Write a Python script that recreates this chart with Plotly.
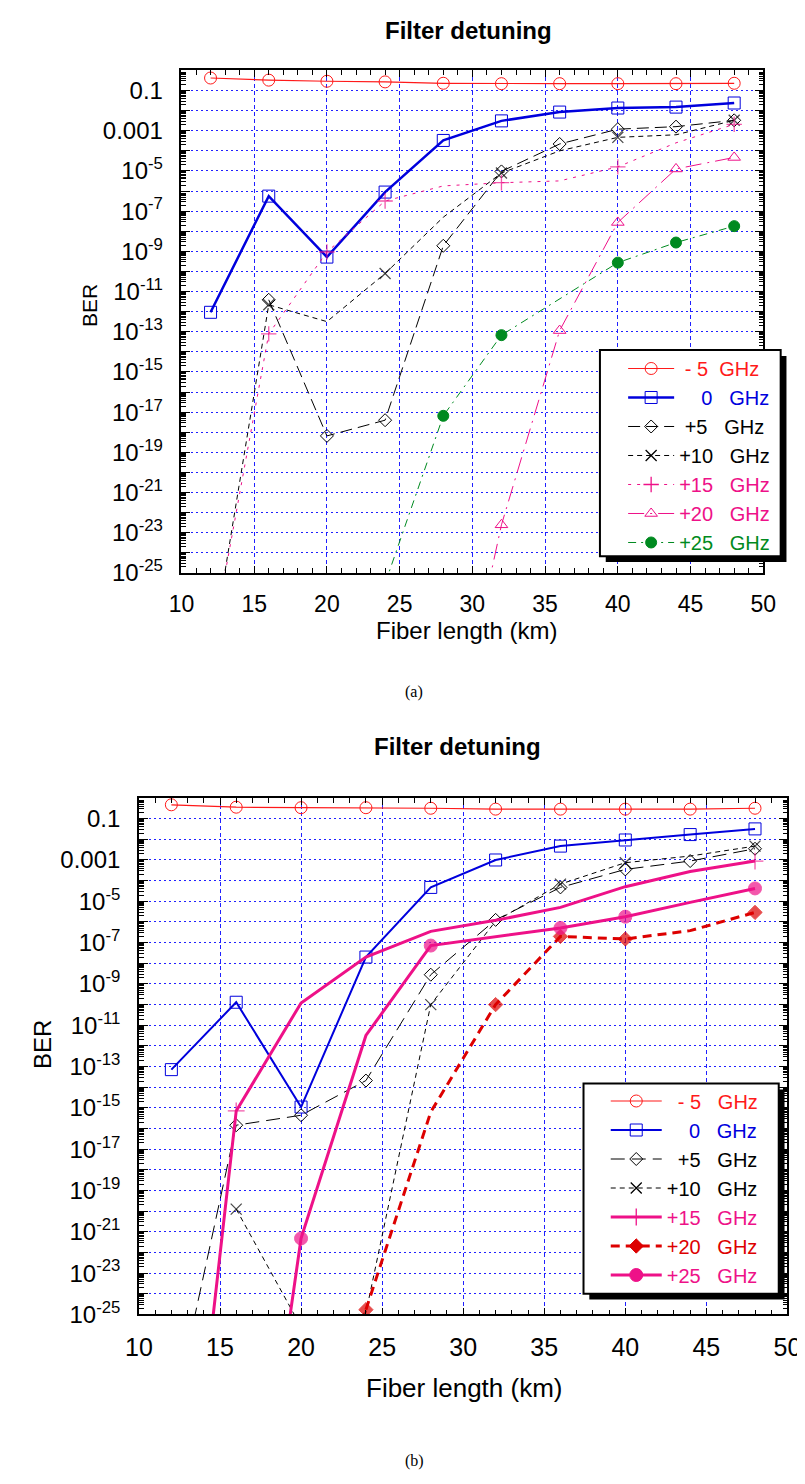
import plotly.graph_objects as go

# ---------------- data ----------------
fiber_km = [12, 16, 20, 24, 28, 32, 36, 40, 44, 48]
x_ticks = [10, 15, 20, 25, 30, 35, 40, 45, 50]

# panel (a)
a_m5 = [0.42, 0.33, 0.29, 0.27, 0.23, 0.22, 0.22, 0.22, 0.22, 0.23]
a_0 = [9.3e-13, 5.6e-7, 5.2e-10, 8.9e-7, 3.3e-4, 3.1e-3, 8.5e-3, 1.35e-2, 1.5e-2, 2.4e-2]
a_p5_x = [16, 20, 24, 28, 32, 36, 40, 44, 48]
a_p5 = [3.9e-12, 6.6e-19, 4.0e-18, 1.9e-9, 9.5e-6, 2.2e-4, 1.2e-3, 1.6e-3, 3.3e-3]
a_p10 = [5e-30, 2.2e-12, 3.2e-13, 7.9e-11, 5.0e-8, 7.9e-6, 1.0e-4, 4.7e-4, 6.3e-4, 3.3e-3]
a_p15 = [1e-29, 7.9e-14, 9.3e-10, 3.2e-7, 1.8e-6, 2.6e-6, 3.2e-6, 1.6e-5, 2.5e-4, 2.1e-3]
a_p20_x = [28, 32, 36, 40, 44, 48]
a_p20 = [1e-36, 2.5e-23, 1.15e-13, 2.75e-8, 1.26e-5, 4.7e-5]
a_p25_x = [24, 28, 32, 40, 44, 48]
a_p25 = [3e-26, 6.6e-18, 6.8e-14, 2.75e-10, 2.75e-9, 1.8e-8]

# panel (b)
b_m5 = [0.47, 0.36, 0.34, 0.34, 0.32, 0.29, 0.29, 0.29, 0.29, 0.32]
b_0 = [7.1e-14, 1.3e-10, 1.1e-15, 2.0e-8, 4.7e-5, 1.0e-3, 4.7e-3, 9.3e-3, 1.7e-2, 3.2e-2]
b_p5 = [5e-31, 1.45e-16, 4.4e-16, 2.1e-14, 2.8e-9, 1.26e-6, 4.7e-5, 3.5e-4, 8.9e-4, 3.5e-3]
b_p10_x = [16, 20, 24, 28, 32, 36, 40, 44, 48]
b_p10 = [1.26e-20, 2.5e-26, 1.2e-25, 1.0e-10, 1.1e-6, 6.8e-5, 7.4e-4, 1.55e-3, 4.7e-3]
b_p15 = [1e-43, 7.1e-16, 1.2e-10, 2.0e-8, 3.5e-7, 1.2e-6, 5.1e-6, 5.1e-5, 2.75e-4, 8.9e-4]
b_p20_x = [24, 28, 32, 36, 40, 44, 48]
b_p20 = [1.7e-25, 6.3e-16, 1.0e-10, 2.0e-7, 1.5e-7, 3.8e-7, 2.9e-6]
b_p25_x = [16, 20, 24, 28, 36, 40, 44, 48]
b_p25 = [5e-44, 4.8e-22, 3.2e-12, 7.2e-8, 5.1e-7, 1.8e-6, 8.9e-6, 4.2e-5]

NB = "\u00a0"
labels_a = [NB + "-" + NB + "5" + NB * 2 + "GHz",
            NB * 4 + "0" + NB * 3 + "GHz",
            NB + "+5" + NB * 3 + "GHz",
            "+10" + NB * 3 + "GHz",
            "+15" + NB * 3 + "GHz",
            "+20" + NB * 3 + "GHz",
            "+25" + NB * 3 + "GHz"]
labels_b = [NB * 2 + "-" + NB + "5" + NB * 3 + "GHz",
            NB * 4 + "0" + NB * 3 + "GHz",
            NB * 2 + "+5" + NB * 3 + "GHz",
            "+10" + NB * 3 + "GHz",
            "+15" + NB * 3 + "GHz",
            "+20" + NB * 3 + "GHz",
            "+25" + NB * 3 + "GHz"]

# ---------------- styling ----------------
RED = "#ff1a1a"
BLUE = "#0000dd"
PINK = "#ee1188"
GREEN = "#008a20"
BLK = "#000000"
GRID = "#2020ff"
FONT = "Liberation Sans, Arial, sans-serif"

fig = go.Figure()


def add_series(x, y, xa, ya, leg, name, tcolor, color, width, dash, symbol, msize,
               mcolor=None, mline=1.0, show=None):
    if show is None:
        sizes = msize
    else:
        sizes = [msize if s else 0 for s in show]
    mk = dict(symbol=symbol, size=sizes, color=mcolor or color,
              line=dict(width=mline, color=color))
    fig.add_trace(go.Scatter(x=x, y=y, xaxis=xa, yaxis=ya, mode="lines+markers",
                             line=dict(color=color, width=width, dash=dash),
                             marker=mk, showlegend=False, hoverinfo="skip"))
    # legend entry
    fig.add_trace(go.Scatter(x=[None], y=[None], xaxis=xa, yaxis=ya, mode="lines+markers",
                             line=dict(color=color, width=width, dash=dash),
                             marker=dict(symbol=symbol, size=msize, color=mcolor or color,
                                         line=dict(width=mline, color=color)),
                             name=f"<span style='color:{tcolor}'>{name}</span>",
                             legend=leg, showlegend=True))


# panel (a) series
add_series(fiber_km, a_m5, "x", "y", "legend", labels_a[0], RED, RED, 1.2, "solid", "circle-open", 12)
add_series(fiber_km, a_0, "x", "y", "legend", labels_a[1], BLUE, BLUE, 2.5, "solid", "square-open", 12)
add_series(a_p5_x, a_p5, "x", "y", "legend", labels_a[2], BLK, BLK, 1, "12px,6px", "diamond-open", 10)
add_series(fiber_km, a_p10, "x", "y", "legend", labels_a[3], BLK, BLK, 1, "5px,4px", "x-thin", 11,
           mline=1.3, show=[0, 1, 0, 1, 0, 1, 0, 1, 0, 1])
add_series(fiber_km, a_p15, "x", "y", "legend", labels_a[4], PINK, PINK, 1, "3px,6px", "cross-thin", 11,
           mline=1.3, show=[0, 1, 1, 1, 0, 1, 0, 1, 0, 1])
add_series(a_p20_x, a_p20, "x", "y", "legend", labels_a[5], PINK, PINK, 1, "16px,6px,2px,6px",
           "triangle-up-open", 11)
add_series(a_p25_x, a_p25, "x", "y", "legend", labels_a[6], GREEN, GREEN, 1, "8px,5px,2px,5px",
           "circle", 11)

# panel (b) series
add_series(fiber_km, b_m5, "x2", "y2", "legend2", labels_b[0], RED, RED, 1.2, "solid", "circle-open", 12)
add_series(fiber_km, b_0, "x2", "y2", "legend2", labels_b[1], BLUE, BLUE, 2, "solid", "square-open", 12)
add_series(fiber_km, b_p5, "x2", "y2", "legend2", labels_b[2], BLK, BLK, 1, "14px,7px", "diamond-open", 10)
add_series(b_p10_x, b_p10, "x2", "y2", "legend2", labels_b[3], BLK, BLK, 1, "5px,4px", "x-thin", 11,
           mline=1.3, show=[1, 0, 0, 1, 0, 1, 1, 0, 1])
add_series(fiber_km, b_p15, "x2", "y2", "legend2", labels_b[4], PINK, PINK, 3, "solid", "cross-thin", 12,
           mline=1.3, show=[0, 1, 0, 0, 0, 0, 0, 0, 0, 1])
add_series(b_p20_x, b_p20, "x2", "y2", "legend2", labels_b[5], "#dd0000", "#dd0000", 3, "9px,6px",
           "diamond", 11, show=[1, 0, 1, 1, 1, 0, 1])
add_series(b_p25_x, b_p25, "x2", "y2", "legend2", labels_b[6], PINK, PINK, 3, "solid", "circle", 13,
           show=[0, 1, 0, 1, 1, 1, 0, 1])

# ---------------- axes ----------------
decades = list(range(-25, 1))
ytickvals = [10.0 ** k for k in decades]


def ylabel(k):
    if k == -1:
        return "0.1"
    if k == -3:
        return "0.001"
    if k % 2 != 0:
        return f"10<sup>{k}</sup>"
    return ""


yticktext = [ylabel(k) for k in decades]
yminor = [m * 10.0 ** k for k in range(-25, 0) for m in range(2, 10)]

W, H = 805, 1484
dom_a_x = [165 / W, 767 / W]
dom_a_y = [1 - 570 / H, 1 - 63 / H]
dom_b_x = [121 / W, 792 / W]
dom_b_y = [1 - 1318 / H, 1 - 797 / H]


def xaxis_cfg(dom, fs, anchor):
    return dict(domain=dom, anchor=anchor, range=[10, 50], tickvals=x_ticks,
                ticks="inside", ticklen=7, tickcolor="black", tickwidth=1,
                minor=dict(dtick=1, ticks="inside", ticklen=5, tickcolor="black", showgrid=False),
                showgrid=True, gridcolor=GRID, gridwidth=1, griddash="4px,3px",
                showline=True, linecolor="black", linewidth=1.5, mirror="allticks",
                zeroline=False, tickfont=dict(family=FONT, size=fs, color="black"),
                ticklabelstandoff=10)


def yaxis_cfg(dom, fs, anchor):
    return dict(domain=dom, anchor=anchor, type="log", range=[-25, 0],
                tickvals=ytickvals, ticktext=yticktext,
                ticks="inside", ticklen=9, tickcolor="black", tickwidth=1,
                minor=dict(tickvals=yminor, ticks="inside", ticklen=5, tickcolor="black",
                           showgrid=False),
                showgrid=True, gridcolor=GRID, gridwidth=1, griddash="2px,3px",
                showline=True, linecolor="black", linewidth=1.5, mirror="allticks",
                zeroline=False, tickfont=dict(family=FONT, size=fs, color="black"),
                ticklabelstandoff=12)


legend_common = dict(bgcolor="rgba(0,0,0,0)", borderwidth=0, font=dict(family=FONT, size=20),
                     xanchor="left", yanchor="top", tracegroupgap=0)

fig.update_layout(
    width=W, height=H, margin=dict(l=0, r=0, t=0, b=0),
    paper_bgcolor="white", plot_bgcolor="white",
    xaxis=xaxis_cfg(dom_a_x, 23, "y"),
    yaxis=yaxis_cfg(dom_a_y, 24, "x"),
    xaxis2=xaxis_cfg(dom_b_x, 25, "y2"),
    yaxis2=yaxis_cfg(dom_b_y, 24, "x2"),
    legend=dict(x=622 / W, y=1 - 344 / H, itemwidth=46, **legend_common),
    legend2=dict(x=604 / W, y=1 - 1083 / H, itemwidth=51, **legend_common),
)

# legend boxes with drop shadow
boxes = [(598, 345, 785, 553), (581, 1085, 783, 1297)]
shapes = []
for (x0, y0, x1, y1) in boxes:
    shapes.append(dict(type="rect", xref="paper", yref="paper", layer="above",
                       x0=(x0 + 6) / W, x1=(x1 + 6) / W, y0=1 - (y1 + 6) / H, y1=1 - (y0 + 6) / H,
                       fillcolor="black", line=dict(width=0)))
    shapes.append(dict(type="rect", xref="paper", yref="paper", layer="above",
                       x0=x0 / W, x1=x1 / W, y0=1 - y1 / H, y1=1 - y0 / H,
                       fillcolor="white", line=dict(width=2, color="black")))
fig.update_layout(shapes=shapes)


def ann(text, x, y, size, angle=0, family=FONT):
    return dict(text=text, x=x / W, y=1 - y / H, xref="paper", yref="paper", showarrow=False,
                xanchor="center", yanchor="middle", textangle=angle,
                font=dict(family=family, size=size, color="black"))


fig.update_layout(annotations=[
    ann("<b>Filter detuning</b>", 462, 23, 24),
    ann("BER", 70, 300, 21, -90),
    ann("Fiber length (km)", 460, 628, 24),
    ann("(a)", 406, 690, 16, family="Liberation Serif, Times New Roman, serif"),
    ann("<b>Filter detuning</b>", 451, 745, 24),
    ann("BER", 22, 1046, 24, -90),
    ann("Fiber length (km)", 458, 1392, 26),
    ann("(b)", 406, 1466, 16, family="Liberation Serif, Times New Roman, serif"),
])

fig.write_html("out.html")
